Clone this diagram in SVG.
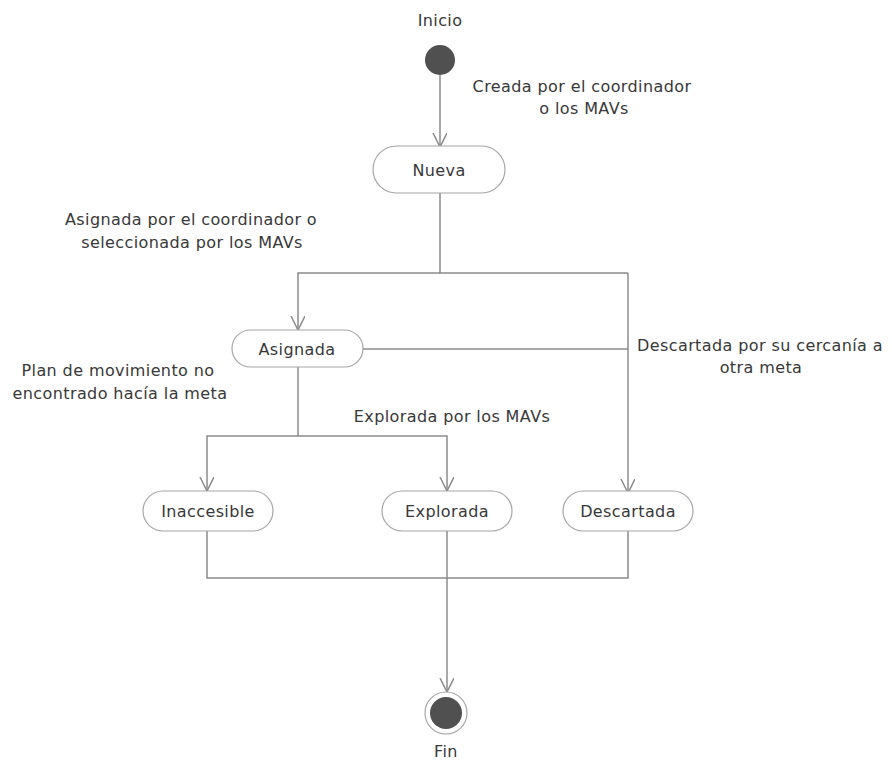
<svg xmlns="http://www.w3.org/2000/svg" width="892" height="764" viewBox="0 0 892 764">
  <style>
    .lbl { font-family: "DejaVu Sans", Verdana, sans-serif; font-size: 16px; letter-spacing: 0.4px; fill: #383838; text-anchor: middle; }
    .node rect { fill: #ffffff; stroke: #a6a6a6; stroke-width: 1.2; }
    .conn { fill: none; stroke: #8c8c8c; stroke-width: 1.5; }
    .dot { fill: #505050; }
  </style>
  <defs>
    <marker id="arrow" markerWidth="16" markerHeight="16" refX="14" refY="7" orient="auto" markerUnits="userSpaceOnUse">
      <path d="M0,0 L14,7 L0,14" fill="none" stroke="#8c8c8c" stroke-width="1.5"/>
    </marker>
  </defs>
  <rect width="892" height="764" fill="#ffffff"/>

  <!-- connectors -->
  <g id="connectors">
    <path class="conn" d="M440,75 L440,147" marker-end="url(#arrow)"/>
    <path class="conn" d="M440,193 L440,273 L628,273"/>
    <path class="conn" d="M440,273 L298,273 L298,330" marker-end="url(#arrow)"/>
    <path class="conn" d="M628,273 L628,493" marker-end="url(#arrow)"/>
    <path class="conn" d="M363,349 L628,349"/>
    <path class="conn" d="M298,367 L298,436"/>
    <path class="conn" d="M298,436 L207,436 L207,491" marker-end="url(#arrow)"/>
    <path class="conn" d="M298,436 L447,436 L447,491" marker-end="url(#arrow)"/>
    <path class="conn" d="M207,531 L207,578 L628,578 L628,531"/>
    <path class="conn" d="M447,531 L447,692" marker-end="url(#arrow)"/>
  </g>

  <!-- edge labels -->
  <g id="edge-labels">
    <text class="lbl" x="582" y="92">Creada por el coordinador</text>
    <text class="lbl" x="584" y="114">o los MAVs</text>
    <text class="lbl" x="191" y="225">Asignada por el coordinador o</text>
    <text class="lbl" x="192" y="248">seleccionada por los MAVs</text>
    <text class="lbl" x="760" y="351">Descartada por su cercanía a</text>
    <text class="lbl" x="761" y="373">otra meta</text>
    <text class="lbl" x="118" y="376">Plan de movimiento no</text>
    <text class="lbl" x="120" y="399">encontrado hacía la meta</text>
    <text class="lbl" x="452" y="422">Explorada por los MAVs</text>
  </g>

  <g id="inicio">
    <text class="lbl" x="440" y="26">Inicio</text>
    <circle class="dot" cx="440" cy="60" r="15"/>
  </g>

  <g id="nueva" class="node">
    <rect x="373" y="146" width="132" height="47" rx="23.5"/>
    <text class="lbl" x="439" y="176">Nueva</text>
  </g>

  <g id="asignada" class="node">
    <rect x="232" y="330" width="131" height="37" rx="18.5"/>
    <text class="lbl" x="297" y="355">Asignada</text>
  </g>

  <g id="inaccesible" class="node">
    <rect x="143" y="491" width="130" height="40" rx="20"/>
    <text class="lbl" x="208" y="517">Inaccesible</text>
  </g>

  <g id="explorada" class="node">
    <rect x="382" y="491" width="130" height="40" rx="20"/>
    <text class="lbl" x="447" y="517">Explorada</text>
  </g>

  <g id="descartada" class="node">
    <rect x="563" y="491" width="130" height="40" rx="20"/>
    <text class="lbl" x="628" y="517">Descartada</text>
  </g>

  <g id="fin">
    <circle cx="446" cy="713" r="21" fill="#ffffff" stroke="#a6a6a6" stroke-width="1.2"/>
    <circle class="dot" cx="446" cy="713" r="16"/>
    <text class="lbl" x="446" y="757">Fin</text>
  </g>
</svg>
